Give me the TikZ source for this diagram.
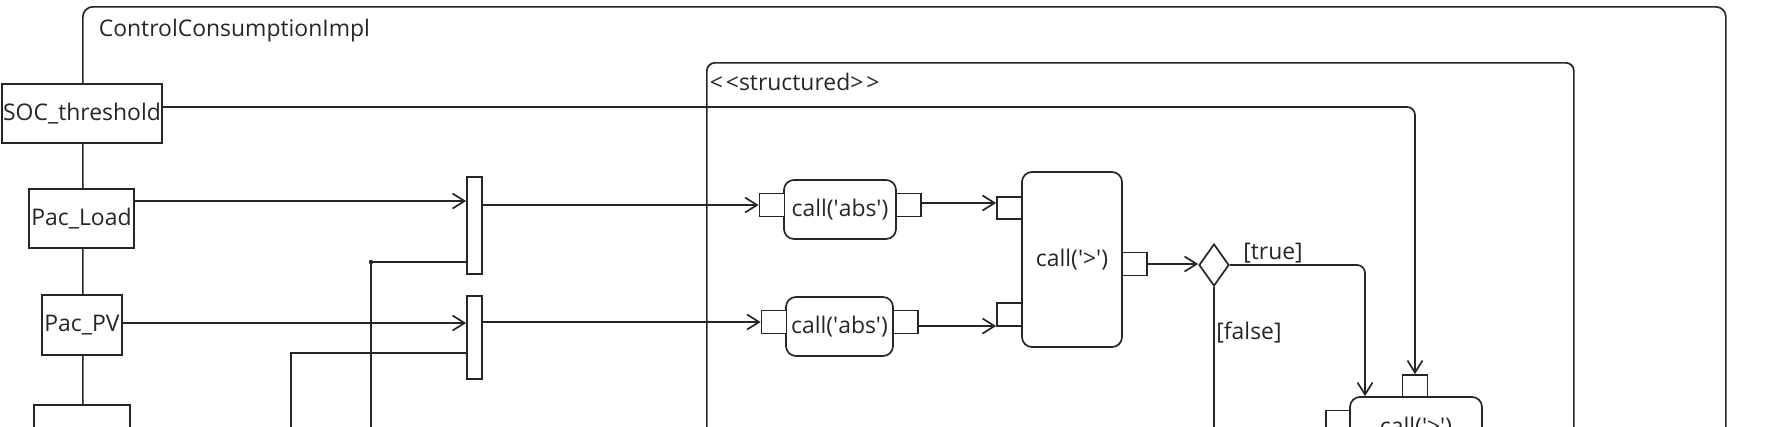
\documentclass[tikz,border=0pt]{standalone}
\usepackage{fontspec}
\setmainfont{Open Sans}
\usetikzlibrary{arrows.meta,shapes.geometric}
\newcommand\qq{\textquotesingle}
\begin{document}
\begin{tikzpicture}[x=1bp,y=-1bp,line width=1.7bp,draw=black!85,
  every node/.style={font=\fontsize{23}{28}\selectfont,text=black!85},
  box/.style={draw=black!85,fill=white,rectangle,inner sep=0pt},
  pin/.style={box,minimum width=25bp,minimum height=23bp},
  act/.style={box,rounded corners=10bp},
  bar/.style={box,minimum width=15bp},
  frm/.style={draw=black!85,rounded corners=10bp,anchor=north west,inner sep=0pt},
  arr/.style={-{Straight Barb[length=12bp,width=15bp]}},
  dec/.style={draw=black!85,fill=white,diamond,inner sep=0pt,minimum width=30bp,minimum height=42bp}]
\useasboundingbox (0,0) rectangle (1776,426);
\clip (0,0) rectangle (1776,426);
% frames
\node[frm,minimum width=1643bp,minimum height=520bp] (outer) at (82,6) {};
\node[anchor=west,inner sep=0pt] (title) at (98,31) {ControlConsumptionImpl};
\node[frm,rounded corners=8bp,minimum width=867bp,minimum height=520bp] (struct) at (706,62) {};
\node[anchor=west,inner sep=0pt] (stitle) at (709,82) {\textless\kern3pt\textless structured\textgreater\kern3pt\textgreater};
% parameter nodes
\node[box,minimum width=160bp,minimum height=59bp] (soc) at (82,113.5) {SOC\_threshold};
\node[box,minimum width=105bp,minimum height=59bp] (load) at (81.5,218.5) {Pac\_Load};
\node[box,minimum width=80bp,minimum height=60bp] (pv) at (82,325) {Pac\_PV};
\node[box,minimum width=96bp,minimum height=60bp] (p4) at (82,435) {};
% bars
\node[bar,minimum height=97bp] (bar1) at (474.5,225.5) {};
\node[bar,minimum height=83bp] (bar2) at (474.5,337.5) {};
% actions
\node[act,minimum width=112bp,minimum height=59bp] (abs1) at (840,209.5) {call(\qq abs\qq)};
\node[pin] (abs1in) at (772,205) {};
\node[pin] (abs1out) at (908.5,205) {};
\node[act,minimum width=107bp,minimum height=59bp] (abs2) at (839.5,326.5) {call(\qq abs\qq)};
\node[pin] (abs2in) at (774,322) {};
\node[pin] (abs2out) at (905.5,322) {};
\node[act,minimum width=100bp,minimum height=175bp] (gt) at (1072,259.5) {call(\qq\textgreater\qq)};
\node[pin,minimum height=22bp] (gtin1) at (1009.5,208) {};
\node[pin] (gtin2) at (1009.5,314.5) {};
\node[pin] (gtout) at (1134.5,264) {};
\node[dec] (d) at (1214,265) {};
\node[act,minimum width=132bp,minimum height=62bp] (bot) at (1416,428) {call(\qq\textgreater\qq)};
\node[pin,minimum height=22bp] (bottop) at (1415,386) {};
\node[pin,minimum width=24bp] (botin) at (1338,422) {};
% labels
\node (tl) at (1273,253) {[true]};
\node (fl) at (1249,333) {[false]};
% junction coordinates
\coordinate (j1) at (371,262);
\coordinate (j1b) at (371,440);
\coordinate (j2) at (291,353);
\coordinate (j2b) at (291,440);
\coordinate (fb) at (1213,440);
% connectors
\draw[arr,rounded corners=8bp] ([yshift=6.5bp]soc.east) -| (bottop.north);
\draw[arr] ([yshift=17.5bp]load.east) -- ([yshift=17.5bp]load.east -| bar1.west);
\draw[arr] ([yshift=2bp]pv.east) -- ([yshift=2bp]pv.east -| bar2.west);
\draw (j1b) -- (j1) -- (j1 -| bar1.west);
\draw (j2b) -- (j2) -- (j2 -| bar2.west);
\fill[black!85] (j1) circle (2.2bp);
\fill[black!85] (j2) circle (1.5bp);
\draw[arr] (abs1in.west -| bar1.east) -- (abs1in.west);
\draw[arr] (abs2in.west -| bar2.east) -- (abs2in.west);
\draw[arr] ([yshift=2bp]abs1out.east) -- ([yshift=2bp]abs1out.east -| gtin1.west);
\draw[arr] ([yshift=-4bp]abs2out.east) -- ([yshift=-4bp]abs2out.east -| gtin2.west);
\draw[arr] (gtout.east) -- (gtout.east -| d.west);
\draw[arr,rounded corners=8bp] (d.east) -| ([xshift=-51bp]bot.north);
\draw (d.south) -- (d.south |- fb);
\end{tikzpicture}
\end{document}
